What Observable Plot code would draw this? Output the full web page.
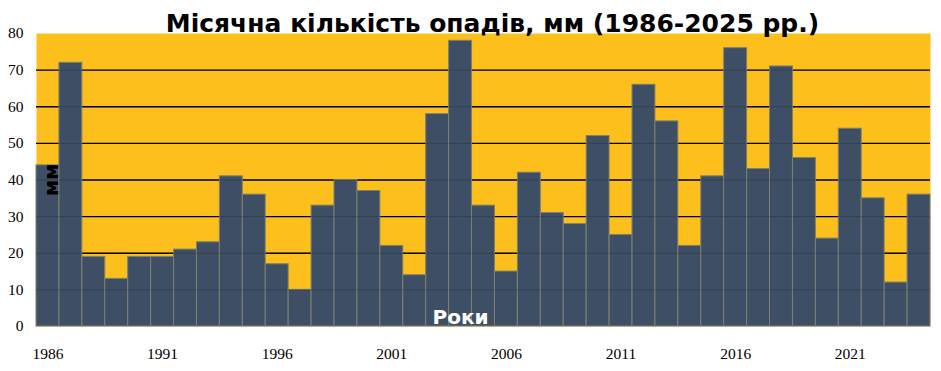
<!DOCTYPE html>
<html>
<head>
<meta charset="utf-8">
<script src="https://cdn.jsdelivr.net/npm/d3@7"></script>
<script src="https://cdn.jsdelivr.net/npm/@observablehq/plot@0.6"></script>
<style>
  html, body { margin: 0; padding: 0; background: #fff; }
</style>
</head>
<body>
<div id="chart"></div>
<script>
const years = [1986,1987,1988,1989,1990,1991,1992,1993,1994,1995,1996,1997,1998,1999,2000,2001,2002,2003,2004,2005,2006,2007,2008,2009,2010,2011,2012,2013,2014,2015,2016,2017,2018,2019,2020,2021,2022,2023,2024];
const precip = [44,72,19,13,19,19,21,23,41,36,17,10,33,40,37,22,14,58,78,33,15,42,31,28,52,25,66,56,22,41,76,43,71,46,24,54,35,12,36];
const xTickLabels = [1986,1991,1996,2001,2006,2011,2016,2021];
const yTicks = [0,10,20,30,40,50,60,70,80];
const gridValues = [10,20,30,40,50,60,70];
const titleText = "Місячна кількість опадів, мм (1986-2025 рр.)";
const yLabel = "мм";
const xLabel = "Роки";

const data = years.map((y, i) => ({year: y, value: precip[i]}));

const chart = Plot.plot({
  width: 941,
  height: 371,
  marginLeft: 36,
  marginRight: 11,
  marginTop: 33,
  marginBottom: 45,
  style: {fontFamily: "Liberation Serif", fontSize: "15px", color: "#000", background: "#fff"},
  x: {type: "band", domain: years, padding: 0, label: null},
  y: {domain: [0, 80], label: null},
  marks: [
    Plot.frame({fill: "#FCBF1C", stroke: null}),
    Plot.ruleY(gridValues, {stroke: "#000", strokeWidth: 1.4}),
    Plot.barY(data, {x: "year", y: "value", fill: "#3E4F65", stroke: "#7f806e", strokeWidth: 1, inset: 0}),
    Plot.ruleY(gridValues, {stroke: "#000", strokeWidth: 1, strokeOpacity: 0.18}),
    Plot.axisY({ticks: yTicks, tickSize: 0, tickPadding: 13, fontSize: 15.5, label: null}),
    Plot.axisX({ticks: xTickLabels, tickSize: 0, tickPadding: 21, fontSize: 15.5, label: null, tickFormat: d => String(d)}),
    Plot.text([titleText], {frameAnchor: "top", lineAnchor: "bottom", dx: 9, dy: -2, fontSize: 25, fontWeight: "bold", fontFamily: "DejaVu Sans", fill: "#000"}),
    Plot.text([yLabel], {frameAnchor: "left", rotate: -90, textAnchor: "middle", lineAnchor: "middle", dx: 15, dy: 0, fontSize: 20, fontWeight: "bold", fontFamily: "DejaVu Sans", fill: "#000"}),
    Plot.text([xLabel], {frameAnchor: "bottom", lineAnchor: "bottom", textAnchor: "middle", dx: -23, dy: -3, fontSize: 20, fontWeight: "bold", fontFamily: "DejaVu Sans", fill: "#fff"})
  ]
});
document.getElementById("chart").appendChild(chart);
</script>
</body>
</html>
